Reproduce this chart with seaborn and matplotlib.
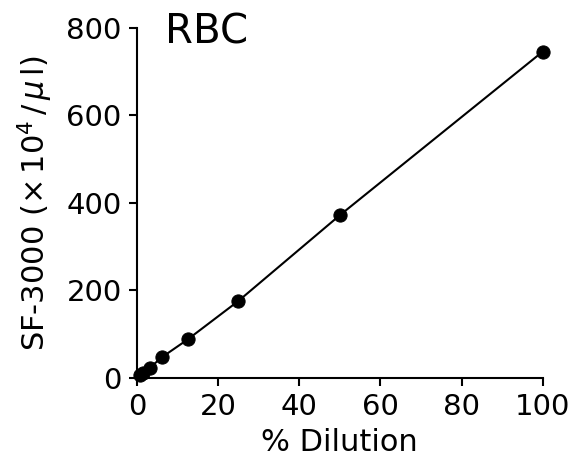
import matplotlib
matplotlib.use("Agg")
import matplotlib.pyplot as plt
import seaborn as sns
import pandas as pd

dilution = [0.78, 1.5625, 3.125, 6.25, 12.5, 25, 50, 100]
sf3000 = [6, 12, 23, 48, 88, 176, 372, 746]
x_ticks = [0, 20, 40, 60, 80, 100]
y_ticks = [0, 200, 400, 600, 800]

df = pd.DataFrame({"dilution": dilution, "sf3000": sf3000})

sns.set_style("ticks")
plt.rcParams['font.family'] = ['DejaVu Sans']
plt.rcParams['mathtext.fontset'] = 'dejavusans'
plt.rcParams['text.color'] = 'black'
plt.rcParams['axes.labelcolor'] = 'black'
plt.rcParams['xtick.color'] = 'black'
plt.rcParams['ytick.color'] = 'black'

fig = plt.figure(figsize=(5.78, 4.66), dpi=100)
ax = fig.add_axes([0.237, 0.189, 0.702, 0.751])

sns.lineplot(data=df, x="dilution", y="sf3000", ax=ax, color="black",
             linewidth=1.5, marker="o", markersize=9.5, markeredgecolor="black",
             markerfacecolor="black", clip_on=False)

ax.set_xlim(0, 100)
ax.set_ylim(0, 800)
ax.set_xticks(x_ticks)
ax.set_yticks(y_ticks)
ax.tick_params(labelsize=21, direction="out", length=6, width=1.5, colors="black", pad=5)
for s in ["top", "right"]:
    ax.spines[s].set_visible(False)
for s in ["left", "bottom"]:
    ax.spines[s].set_linewidth(1.5)
    ax.spines[s].set_color("black")
ax.set_xlabel("% Dilution", fontsize=22, labelpad=5)
ax.set_ylabel(r"SF-3000 ($\times\,10^4\,/\,\mu\,$l)", fontsize=22, labelpad=8)
ax.text(7.0, 835, "RBC", fontsize=29, va="top", ha="left")

fig.savefig("out.png", dpi=100)
